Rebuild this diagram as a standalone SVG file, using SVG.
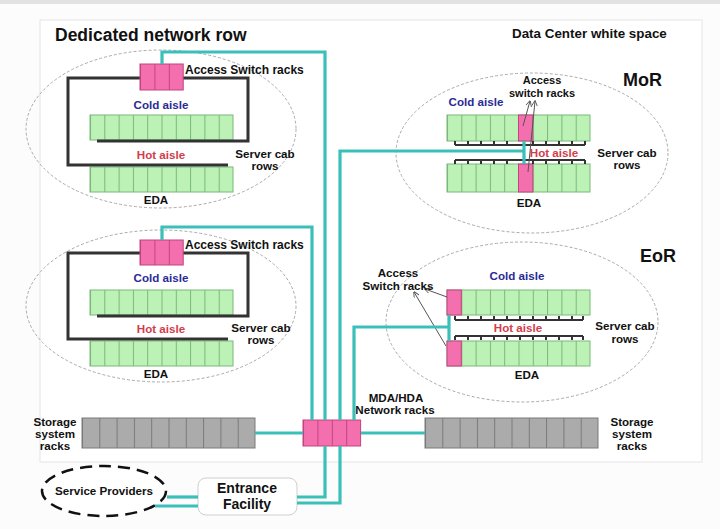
<svg xmlns="http://www.w3.org/2000/svg" width="720" height="529" viewBox="0 0 720 529">
<style>
.t{font-family:"Liberation Sans",Arial,sans-serif;font-weight:bold;font-size:11.6px;fill:#111}
.c{text-anchor:middle}
.cold{fill:#2b2b96}
.hot{fill:#d23c4c}
.ell{fill:none;stroke:#aaa;stroke-width:1;stroke-dasharray:3 2}
.loop{fill:none;stroke:#333;stroke-width:3}
.cable{fill:none;stroke:#3bbfb9;stroke-width:3.2}
.comb{fill:none;stroke:#333;stroke-width:2}
.ptr{stroke:#555;stroke-width:1;fill:none}
.gb{stroke:#7ab87a;stroke-width:1}
.pb{stroke:#c2447f;stroke-width:1}
.sb{stroke:#7a7a7a;stroke-width:1}
</style>
<defs>
<pattern id="pg" patternUnits="userSpaceOnUse" width="14.3" height="60"><rect width="14.3" height="60" fill="#bdf2b6"/><rect width="1" height="60" fill="#7ab87a"/></pattern>
<pattern id="pk" patternUnits="userSpaceOnUse" width="14.4" height="60"><rect width="14.4" height="60" fill="#f46fae"/><rect width="1" height="60" fill="#c2447f"/></pattern>
<pattern id="ps" patternUnits="userSpaceOnUse" width="17.3" height="60"><rect width="17.3" height="60" fill="#ababab"/><rect width="1" height="60" fill="#7a7a7a"/></pattern>
<marker id="ah" viewBox="0 0 10 10" refX="9" refY="5" markerWidth="6" markerHeight="6" orient="auto-start-reverse"><path d="M0,0 L10,5 L0,10" fill="none" stroke="#555" stroke-width="1.5"/></marker>
</defs>
<rect width="720" height="529" fill="#fcfcfc"/>
<rect width="720" height="4" fill="#e2e2e2"/>
<rect x="40" y="20" width="662" height="442" fill="#fff" stroke="#e4e4e4"/>
<text class="t" x="55" y="41" style="font-size:17.5px">Dedicated network row</text>
<text class="t" x="512" y="38" style="font-size:13.4px">Data Center white space</text>

<g id="row-top-left">
<ellipse class="ell" cx="161" cy="129" rx="135" ry="79"/>
<g transform="translate(90,115)"><rect class="gb" width="143" height="25" fill="url(#pg)"/></g>
<g transform="translate(90,167)"><rect class="gb" width="143" height="25" fill="url(#pg)"/></g>
<path class="loop" d="M140,78 H68 V165 H228 M183,78 H248 V141 H97"/>
<g transform="translate(140,64)"><rect class="pb" width="43.2" height="26" fill="url(#pk)"/></g>
<text class="t" x="185" y="74" style="font-size:12px">Access Switch racks</text>
<text class="t c cold" x="161" y="109">Cold aisle</text>
<text class="t c hot" x="161" y="159">Hot aisle</text>
<text class="t c" x="265" y="158">Server cab</text>
<text class="t c" x="265" y="170">rows</text>
<text class="t c" x="156" y="204">EDA</text>
</g>

<g id="row-bottom-left">
<ellipse class="ell" cx="161" cy="306" rx="135" ry="76"/>
<g transform="translate(90,290)"><rect class="gb" width="143" height="25" fill="url(#pg)"/></g>
<g transform="translate(90,341)"><rect class="gb" width="143" height="25" fill="url(#pg)"/></g>
<path class="loop" d="M140,253 H68 V339 H228 M183,253 H248 V316 H97"/>
<g transform="translate(140,240)"><rect class="pb" width="43.2" height="25" fill="url(#pk)"/></g>
<text class="t" x="185" y="249" style="font-size:12px">Access Switch racks</text>
<text class="t c cold" x="161" y="282">Cold aisle</text>
<text class="t c hot" x="161" y="333">Hot aisle</text>
<text class="t c" x="261" y="332">Server cab</text>
<text class="t c" x="261" y="344">rows</text>
<text class="t c" x="156" y="378">EDA</text>
</g>

<g id="mor">
<ellipse class="ell" cx="532" cy="153" rx="136" ry="80"/>
<g transform="translate(447,115)"><rect class="gb" width="143" height="26" fill="url(#pg)"/></g>
<g transform="translate(447,164)"><rect class="gb" width="143" height="28" fill="url(#pg)"/></g>
<rect class="pb" x="518.5" y="115" width="14.3" height="26" fill="#f46fae"/>
<rect class="pb" x="518.5" y="164" width="14.3" height="28" fill="#f46fae"/>
<path class="comb" d="M455,145 H585 M455,141 V145 M468,141 V145 M481,141 V145 M494,141 V145 M507,141 V145 M533,141 V145 M546,141 V145 M559,141 V145 M572,141 V145 M585,141 V145"/>
<path class="comb" d="M455,160 H585 M455,160 V164 M468,160 V164 M481,160 V164 M494,160 V164 M507,160 V164 M533,160 V164 M546,160 V164 M559,160 V164 M572,160 V164 M585,160 V164"/>
<rect x="529" y="147" width="50" height="12" fill="#fff"/>
<line class="ptr" x1="530" y1="101" x2="523" y2="126" marker-start="url(#ah)"/>
<line class="ptr" x1="535" y1="101" x2="528" y2="172" marker-start="url(#ah)"/>
<text class="t" x="623" y="86" style="font-size:18px">MoR</text>
<text class="t c cold" x="476" y="106">Cold aisle</text>
<text class="t c" x="542" y="84" style="font-size:11px">Access</text>
<text class="t c" x="542" y="97" style="font-size:11px">switch racks</text>
<text class="t c hot" x="554" y="157">Hot aisle</text>
<text class="t c" x="627" y="157">Server cab</text>
<text class="t c" x="627" y="169">rows</text>
<text class="t c" x="529" y="207">EDA</text>
</g>

<g id="eor">
<ellipse class="ell" cx="522" cy="322" rx="136" ry="80"/>
<g transform="translate(447,290)"><rect class="gb" width="143" height="25" fill="url(#pg)"/></g>
<g transform="translate(447,341)"><rect class="gb" width="143" height="25" fill="url(#pg)"/></g>
<rect class="pb" x="447" y="290" width="14.3" height="25" fill="#f46fae"/>
<rect class="pb" x="447" y="341" width="14.3" height="25" fill="#f46fae"/>
<path class="comb" d="M455,320 H583 M455,316 V320 M468,316 V320 M481,316 V320 M494,316 V320 M507,316 V320 M520,316 V320 M533,316 V320 M546,316 V320 M559,316 V320 M572,316 V320 M583,316 V320"/>
<path class="comb" d="M455,336 H583 M455,336 V340 M468,336 V340 M481,336 V340 M494,336 V340 M507,336 V340 M520,336 V340 M533,336 V340 M546,336 V340 M559,336 V340 M572,336 V340 M583,336 V340"/>
<line class="ptr" x1="425" y1="289" x2="447" y2="297" marker-start="url(#ah)"/>
<line class="ptr" x1="414" y1="292" x2="446" y2="346" marker-start="url(#ah)"/>
<text class="t" x="640" y="262" style="font-size:18px">EoR</text>
<text class="t c cold" x="517" y="280">Cold aisle</text>
<text class="t c hot" x="518" y="332">Hot aisle</text>
<text class="t c" x="625" y="330">Server cab</text>
<text class="t c" x="625" y="343">rows</text>
<text class="t c" x="527" y="379">EDA</text>
<text class="t c" x="398" y="277">Access</text>
<text class="t c" x="398" y="290">Switch racks</text>
</g>

<g id="mda">
<g transform="translate(303,420)"><rect class="pb" width="57.6" height="26" fill="url(#pk)"/></g>
<text class="t c" x="396" y="402">MDA/HDA</text>
<text class="t c" x="395" y="414">Network racks</text>
</g>

<g id="storage-left">
<g transform="translate(82,418)"><rect class="sb" width="173" height="30" fill="url(#ps)"/></g>
<text class="t c" x="55" y="426">Storage</text>
<text class="t c" x="55" y="438">system</text>
<text class="t c" x="55" y="450">racks</text>
</g>

<g id="storage-right">
<g transform="translate(425,418)"><rect class="sb" width="173" height="30" fill="url(#ps)"/></g>
<text class="t c" x="632" y="426">Storage</text>
<text class="t c" x="632" y="438">system</text>
<text class="t c" x="632" y="450">racks</text>
</g>

<g id="service-providers">
<ellipse cx="104" cy="491" rx="62" ry="25" fill="#fff" stroke="#111" stroke-width="2.5" stroke-dasharray="12 7"/>
<text class="t c" x="104" y="495">Service Providers</text>
</g>

<g id="entrance-facility">
<rect x="198" y="478" width="99" height="37" rx="8" fill="#fff" stroke="#cfcfcf"/>
<text class="t c" x="247" y="493" style="font-size:14px">Entrance</text>
<text class="t c" x="247" y="509" style="font-size:14px">Facility</text>
</g>

<g id="connectors">
<path class="cable" d="M162,64 V52 H325 V420"/>
<path class="cable" d="M162,240 V227 H312 V420"/>
<path class="cable" d="M340,420 V151 H523 M524,141 V164"/>
<path class="cable" d="M354,420 V327 H449 M449,315 V341"/>
<path class="cable" d="M255,433 H303"/>
<path class="cable" d="M361,433 H425"/>
<path class="cable" d="M297,497 H325 V446"/>
<path class="cable" d="M297,503 H340 V446"/>
<path class="cable" d="M167,497 H198"/>
<path class="cable" d="M155,506 H198"/>
</g>
</svg>
